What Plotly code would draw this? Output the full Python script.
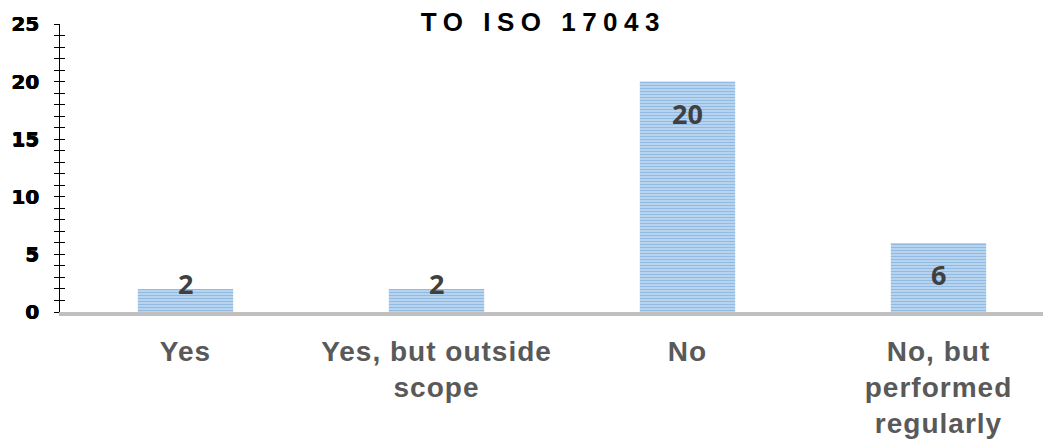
import plotly.graph_objects as go

categories = ["Yes", "Yes, but outside<br>scope", "No", "No, but<br>performed<br>regularly"]
values = [2, 2, 20, 6]
title_text = "TO ISO 17043"
y_ticks = [0, 5, 10, 15, 20, 25]

W, H = 1043, 440
M_L, M_R, M_T, M_B = 60, 0, 24, 128
Y_MAX = 25
px_per_unit = (H - M_T - M_B) / Y_MAX

fig = go.Figure()
fig.add_trace(go.Bar(
    x=categories, y=values,
    width=0.38,
    marker=dict(
        color="#c3daf1",
        line=dict(width=0),
        pattern=dict(shape="-", fgcolor="#5e9bd8", bgcolor="#c3daf1", size=3, solidity=0.5),
    ),
    hoverinfo="skip",
))
# invisible trace to build the overlaying axis used for the inner half of the cross ticks
fig.add_trace(go.Scatter(x=[categories[0]], y=[0], yaxis="y2", mode="markers",
                         marker=dict(opacity=0), hoverinfo="skip", showlegend=False))

for c, v in zip(categories, values):
    h = v * px_per_unit
    d = min(32, h - 29)
    fig.add_annotation(x=c, y=v, text=str(v), showarrow=False,
                       yanchor="middle", yshift=-d,
                       font=dict(family="Open Sans", size=27, color="#404040", weight="bold"))

tick_font = dict(family="DejaVu Sans", size=20, color="black", weight="bold",
                 shadow="0.8px 0 0 black, 0.4px 0.4px 0 black")

fig.update_layout(
    width=W, height=H,
    margin=dict(l=M_L, r=M_R, t=M_T, b=M_B, pad=0),
    paper_bgcolor="white", plot_bgcolor="white",
    showlegend=False,
    title=dict(text=title_text, x=0.521, xanchor="center", xref="container",
               y=1 - 22 / H, yanchor="middle", yref="container",
               font=dict(family="Liberation Sans", size=26, color="black", weight="bold")),
    xaxis=dict(
        range=[-0.5, -0.5 + (W - M_L - M_R) / 251.0],
        showline=True, linecolor="#bfbfbf", linewidth=4,
        ticks="", showgrid=False, zeroline=False, automargin=False,
        tickfont=dict(family="Liberation Sans", size=28, color="#595959", weight="bold"),
        ticklabelstandoff=11,
    ),
    yaxis=dict(
        range=[0, Y_MAX], tickvals=y_ticks,
        showline=True, linecolor="black", linewidth=1.3,
        ticks="outside", ticklen=5, tickwidth=1.3, tickcolor="black",
        minor=dict(dtick=1, ticks="outside", ticklen=5, tickwidth=1.3, tickcolor="black"),
        showgrid=False, zeroline=False, automargin=False,
        tickfont=tick_font, ticklabelstandoff=11,
    ),
    yaxis2=dict(
        range=[0, Y_MAX], overlaying="y", side="left", anchor="x",
        tickvals=y_ticks, showticklabels=False,
        ticks="inside", ticklen=5, tickwidth=1.3, tickcolor="black",
        minor=dict(dtick=1, ticks="inside", ticklen=5, tickwidth=1.3, tickcolor="black"),
        showgrid=False, zeroline=False, showline=False, automargin=False,
    ),
)

fig.write_html("out.html", config={"displayModeBar": False}, post_script="""
document.body.style.margin='0';
document.querySelectorAll('.gtitle').forEach(function(e){e.style.letterSpacing='6.5px';});
document.querySelectorAll('.xtick text').forEach(function(e){e.style.letterSpacing='1px';});
""")
